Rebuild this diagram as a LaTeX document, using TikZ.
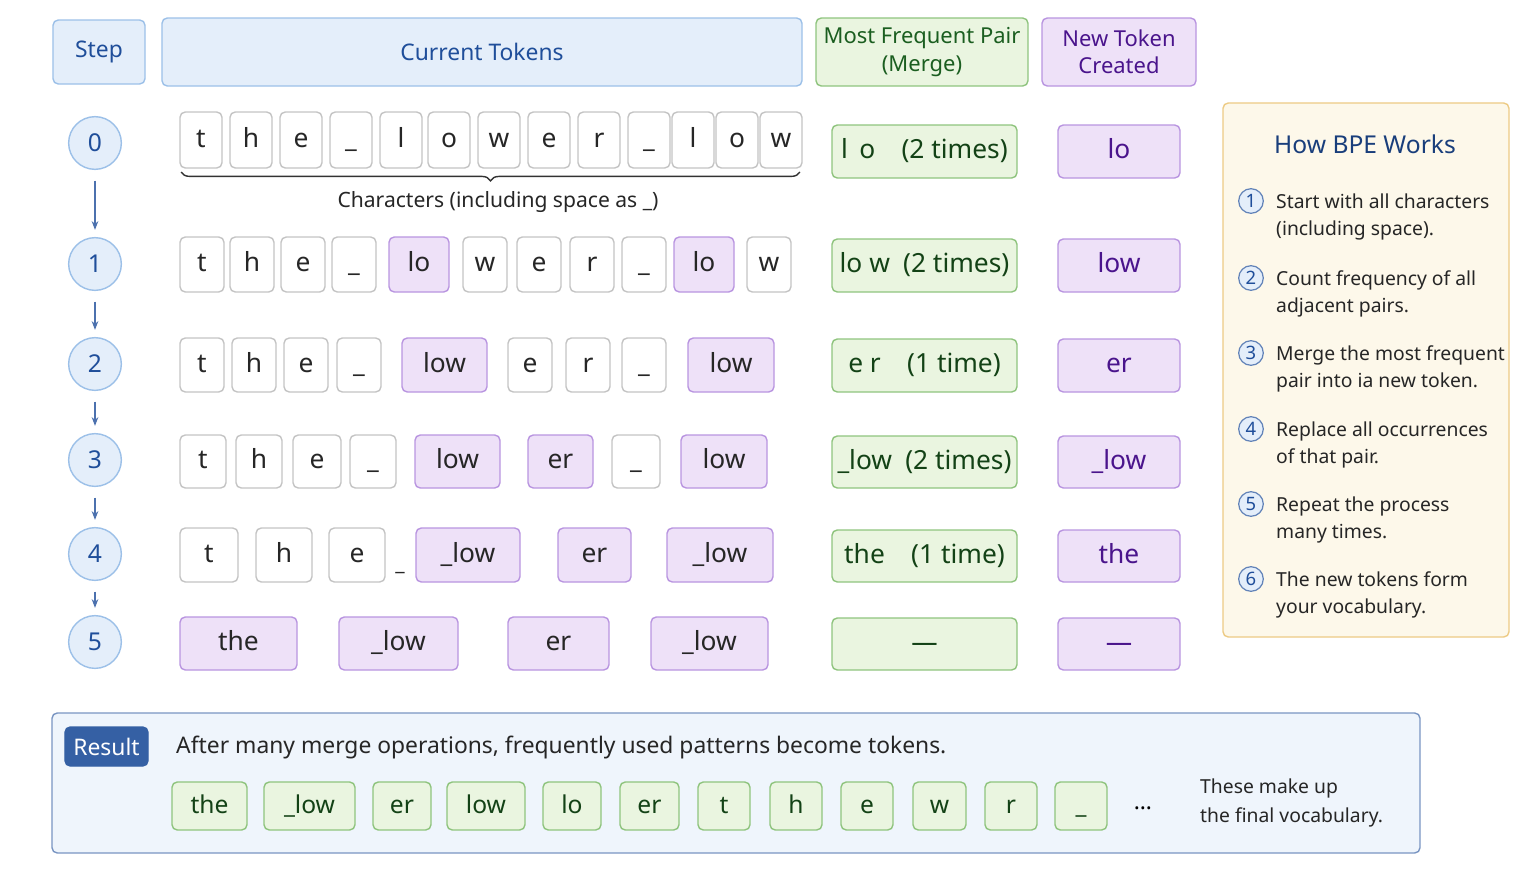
\documentclass[tikz,border=0pt]{standalone}
\usepackage{fontspec}
\setmainfont{Noto Sans}
\usetikzlibrary{decorations.pathreplacing,arrows.meta}
\definecolor{bluet}{HTML}{1F4E9A}
\definecolor{bluef}{HTML}{E4EEFA}
\definecolor{blueb}{HTML}{9CC0E8}
\definecolor{greent}{HTML}{1B5E20}
\definecolor{greenf}{HTML}{EAF5E0}
\definecolor{greenb}{HTML}{8FC47E}
\definecolor{purt}{HTML}{4A148C}
\definecolor{purf}{HTML}{EEE1F8}
\definecolor{purb}{HTML}{B995E0}
\definecolor{grayb}{HTML}{C4C4C4}
\definecolor{creamf}{HTML}{FDF8EA}
\definecolor{creamb}{HTML}{EDCB85}
\tikzset{
 base/.style={rounded corners=3pt,inner sep=0pt,line width=0.8pt},
 hdr/.style={base,fill=bluef,draw=blueb,text=bluet,font=\fontsize{13}{16}\selectfont,align=center},
 hdg/.style={base,fill=greenf,draw=greenb,text=greent,font=\fontsize{12.5}{15.5}\selectfont,align=center},
 hdp/.style={base,fill=purf,draw=purb,text=purt,font=\fontsize{12.5}{15.5}\selectfont,align=center},
 tx/.style={text height=11pt,text depth=3pt},
 tk/.style={base,tx,fill=white,draw=grayb,text=black!85,font=\fontsize{15}{18}\selectfont},
 tp/.style={base,tx,fill=purf,draw=purb,text=black!85,font=\fontsize{15}{18}\selectfont},
 tg/.style={base,tx,fill=greenf,draw=greenb,text=greent!70!black,font=\fontsize{15}{18}\selectfont},
 tpc/.style={base,tx,fill=purf,draw=purb,text=purt,font=\fontsize{15}{18}\selectfont},
 stc/.style={circle,fill=bluef,draw=blueb,line width=0.8pt,minimum size=30pt,inner sep=0pt,text=bluet,font=\fontsize{14}{16}\selectfont},
 sarr/.style={-{Stealth[length=5pt]},draw=bluet!80,line width=0.8pt,shorten <=6pt,shorten >=4pt},
 numc/.style={circle,fill=bluef,draw=bluet!70,line width=0.7pt,minimum size=14pt,inner sep=0pt,text=bluet,font=\fontsize{10.5}{12}\selectfont},
 itx/.style={anchor=north west,align=left,text=black!85,font=\fontsize{11}{15}\selectfont},
}
\newcommand\bx[7]{\pgfmathsetmacro\ww{(#5-#3)*0.02}\pgfmathsetmacro\hh{(#6-#4)*0.02}%
 \node[#1,minimum width=\ww cm,minimum height=\hh cm] (#2) at ({(#3+#5)/2},{(#4+#6)/2}) {#7};}
\begin{document}
\begin{tikzpicture}[x=0.02cm,y=-0.02cm]
\useasboundingbox (0,0) rectangle (1536,886);
% headers
\bx{hdr}{hs}{53}{20}{145}{84}{Step}
\bx{hdr}{hc}{162}{18}{802}{86}{Current Tokens}
\bx{hdg}{hm}{816}{18}{1028}{86}{Most Frequent Pair\\(Merge)}
\bx{hdp}{hn}{1042}{18}{1196}{86}{New Token\\Created}
% steps
\foreach \n/\y in {0/143,1/264,2/364,3/460,4/554,5/642}{\node[stc] (s\n) at (95,\y) {\n};}
\foreach \a/\b in {0/1,1/2,2/3,3/4,4/5}{\draw[sarr] (s\a) -- (s\b);}
% row 0
\foreach \i/\x/\t in {1/180/t,2/230/h,3/280/e,4/330/\_,5/380/l,6/428/o,7/478/w,8/528/e,9/578/r,10/628/\_,11/672/l,12/716/o,13/760/w}{
 \bx{tk}{a\i}{\x}{112}{\x+42}{168}{\t}}
\draw[decorate,decoration={brace,mirror,amplitude=5pt},line width=0.8pt,black!80] (181,172) -- (800,172);
\node[font=\fontsize{12}{14}\selectfont,text=black!85] (cap) at (498,202) {Characters (including space as \_)};
% row 1
\foreach \i/\xa/\xb/\t/\s in {1/180/224/t/tk,2/230/274/h/tk,3/281/325/e/tk,4/332/376/\_/tk,5/389/449/lo/tp,6/463/507/w/tk,7/517/561/e/tk,8/570/614/r/tk,9/622/666/\_/tk,10/674/734/lo/tp,11/747/791/w/tk}{
 \bx{\s}{b\i}{\xa}{237}{\xb}{292}{\t}}
% row 2
\foreach \i/\xa/\xb/\t/\s in {1/180/224/t/tk,2/232/276/h/tk,3/284/328/e/tk,4/337/381/\_/tk,5/402/487/low/tp,6/508/552/e/tk,7/566/610/r/tk,8/622/666/\_/tk,9/688/774/low/tp}{
 \bx{\s}{c\i}{\xa}{338}{\xb}{392}{\t}}
% row 3
\foreach \i/\xa/\xb/\t/\s in {1/180/226/t/tk,2/236/282/h/tk,3/293/341/e/tk,4/350/396/\_/tk,5/415/500/low/tp,6/528/593/er/tp,7/612/660/\_/tk,8/681/767/low/tp}{
 \bx{\s}{d\i}{\xa}{435}{\xb}{488}{\t}}
% row 4
\foreach \i/\xa/\xb/\t/\s in {1/180/238/t/tk,2/256/312/h/tk,3/329/385/e/tk,5/416/520/\_low/tp,6/558/631/er/tp,7/667/773/\_low/tp}{
 \bx{\s}{e\i}{\xa}{528}{\xb}{582}{\t}}
\node[font=\fontsize{12}{14}\selectfont,text=black!85] (e4) at (400,572) {\_};
% row 5
\foreach \i/\xa/\xb/\t in {1/180/297/the,2/339/458/\_low,3/508/609/er,4/651/768/\_low}{
 \bx{tp}{f\i}{\xa}{617}{\xb}{670}{\t}}
% merge column
\foreach \i/\ya/\yb/\t in {0/125/178/{l\, o\quad(2 times)},1/239/292/{lo w\enspace(2 times)},2/339/392/{e r\quad(1 time)},3/436/488/{\_low\enspace(2 times)},4/530/582/{the\quad(1 time)},5/618/670/{---}}{
 \bx{tg}{m\i}{832}{\ya}{1017}{\yb}{\t}}
\foreach \i/\ya/\yb/\t in {0/125/178/lo,1/239/292/low,2/339/392/er,3/436/488/\_low,4/530/582/the,5/618/670/{---}}{
 \bx{tpc}{n\i}{1058}{\ya}{1180}{\yb}{\t}}
% right panel
\bx{base,fill=creamf,draw=creamb}{panel}{1223}{103}{1509}{637}{}
\node[text=bluet!80!black,font=\fontsize{14}{16}\selectfont] (ptitle) at (1365,144) {How BPE Works};
\foreach \n/\y/\t in {1/201/{Start with all characters\\(including space).},2/278/{Count frequency of all\\adjacent pairs.},3/353/{Merge the most frequent\\pair into ia new token.},4/429/{Replace all occurrences\\of that pair.},5/504/{Repeat the process\\many times.},6/579/{The new tokens form\\your vocabulary.}}{
 \node[numc] (c\n) at (1251,\y) {\n};
 \node[itx] (it\n) at (1270,\y-13) {\t};}
% result
\bx{base,fill=bluef!60,draw=bluet!60}{res}{52}{713}{1420}{853}{}
\bx{base,fill=bluet!90,draw=bluet!90,text=white,font=\fontsize{13}{15}\selectfont}{badge}{65}{727}{148}{766}{Result}
\node[anchor=west,text=black!85,font=\fontsize{13}{15}\selectfont] (rtext) at (170,747) {After many merge operations, frequently used patterns become tokens.};
\foreach \i/\xa/\xb/\t in {1/172/247/the,2/264/355/\_low,3/373/431/er,4/447/525/low,5/543/601/lo,6/620/679/er,7/698/750/t,8/770/822/h,9/841/893/e,10/913/966/w,11/985/1037/r,12/1055/1107/\_}{
 \bx{tg,font=\fontsize{14}{16}\selectfont}{g\i}{\xa}{782}{\xb}{830}{\t}}
\node[font=\fontsize{13}{15}\selectfont] (dots) at (1143,808) {\dots};
\node[anchor=west,align=left,text=black!85,font=\fontsize{11}{16}\selectfont] (fin) at (1194,803) {These make up\\the final vocabulary.};
\end{tikzpicture}
\end{document}
